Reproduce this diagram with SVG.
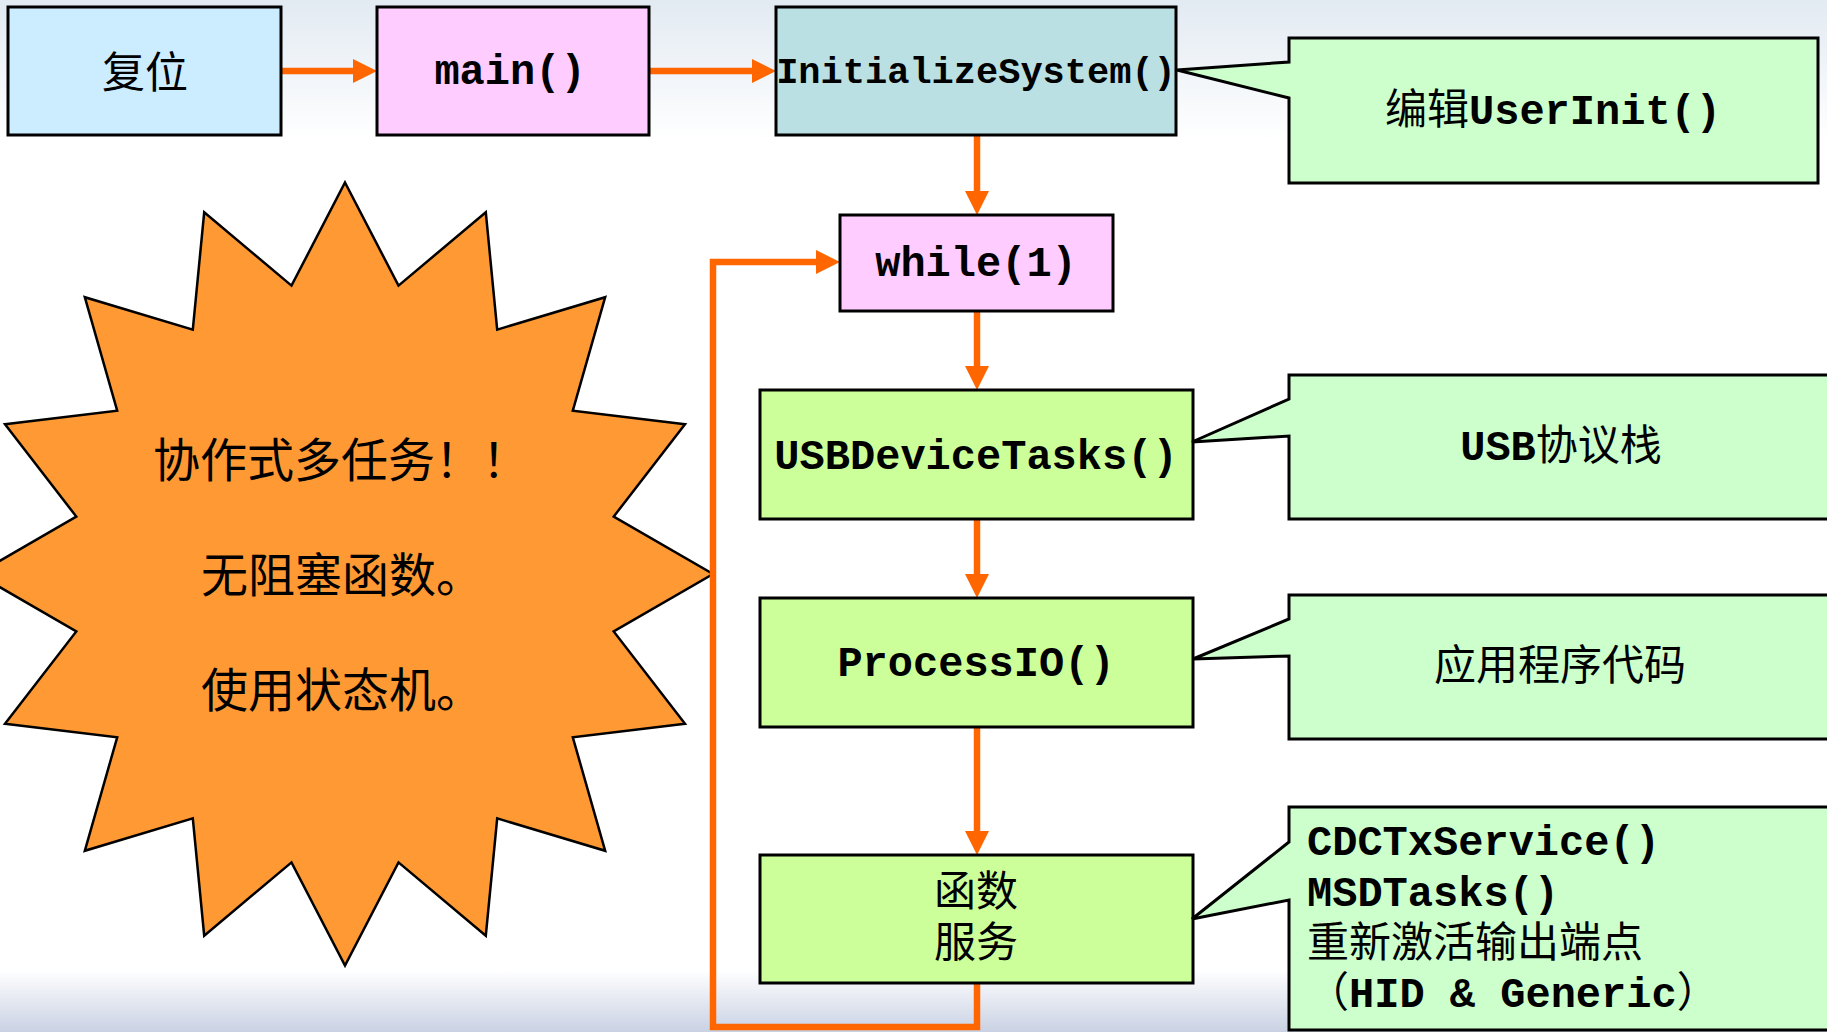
<svg xmlns="http://www.w3.org/2000/svg" width="1827" height="1032" viewBox="0 0 1827 1032">
  <defs>
    <linearGradient id="topHaze" x1="0" y1="0" x2="0" y2="1">
      <stop offset="0" stop-color="#E2EAF2"/>
      <stop offset="1" stop-color="#FFFFFF"/>
    </linearGradient>
    <linearGradient id="bottomBand" x1="0" y1="0" x2="0" y2="1">
      <stop offset="0" stop-color="#FFFFFF"/>
      <stop offset="1" stop-color="#C9D1E3"/>
    </linearGradient>
    <marker id="head" markerUnits="userSpaceOnUse" markerWidth="24" markerHeight="24" refX="0" refY="12" orient="auto">
      <path d="M0,0 L24,12 L0,24 Z" fill="#FF6600"/>
    </marker>
    <style>
      .box { stroke: #000; stroke-width: 3; }
      .callout { fill: #CCFFCC; stroke: #000; stroke-width: 3; stroke-linejoin: miter; }
      .task { fill: #CCFF99; }
      .pink { fill: #FFCCFF; }
      .flow { fill: none; stroke: #FF6600; stroke-width: 6.5; }
      .mono { font-family: "Liberation Mono", "Courier New", monospace; font-weight: bold; font-size: 42px; fill: #000; }
      .cjk { font-family: "Noto Sans CJK SC", "Liberation Sans", sans-serif; font-size: 42px; fill: #000; }
      .mid { text-anchor: middle; }
    </style>
  </defs>

  <!-- backdrop -->
  <rect x="0" y="0" width="1827" height="1032" fill="#FFFFFF"/>
  <rect x="0" y="0" width="1827" height="140" fill="url(#topHaze)"/>
  <rect x="0" y="970" width="1827" height="62" fill="url(#bottomBand)"/>

  <!-- starburst note -->
  <g id="star-note">
    <polygon fill="#FF9933" stroke="#000" stroke-width="2.5" stroke-linejoin="miter"
      points="345,182.5 398.5,285.6 485.8,212.3 497.2,329.6 605.2,297.2 572.8,410.7 685,424.2 613.7,516.6 713,574 613.7,631.4 685,723.8 572.8,737.3 605.2,850.8 497.2,818.4 485.8,935.7 398.5,862.4 345,965.5 291.5,862.4 204.2,935.7 192.8,818.4 84.8,850.8 117.2,737.3 5,723.8 76.3,631.4 -23,574 76.3,516.6 5,424.2 117.2,410.7 84.8,297.2 192.8,329.6 204.2,212.3 291.5,285.6"/>
    <text class="cjk" style="font-size:47px" x="153" y="477">协作式多任务！！</text>
    <text class="cjk" style="font-size:47px" x="201" y="592">无阻塞函数。</text>
    <text class="cjk" style="font-size:47px" x="201" y="707">使用状态机。</text>
  </g>

  <!-- connectors -->
  <g id="connectors">
    <line class="flow" x1="281" y1="71" x2="353" y2="71" marker-end="url(#head)"/>
    <line class="flow" x1="649" y1="71" x2="752" y2="71" marker-end="url(#head)"/>
    <line class="flow" x1="977" y1="135" x2="977" y2="191" marker-end="url(#head)"/>
    <line class="flow" x1="977" y1="311" x2="977" y2="366" marker-end="url(#head)"/>
    <line class="flow" x1="977" y1="519" x2="977" y2="574" marker-end="url(#head)"/>
    <line class="flow" x1="977" y1="727" x2="977" y2="831" marker-end="url(#head)"/>
    <polyline class="flow" points="977,983 977,1027 713,1027 713,262 816,262" marker-end="url(#head)"/>
  </g>

  <!-- flow nodes -->
  <g id="reset">
    <rect class="box" x="8" y="7" width="273" height="128" fill="#CCECFF"/>
    <text class="cjk mid" style="font-size:43px" x="145" y="88">复位</text>
  </g>
  <g id="main">
    <rect class="box pink" x="377" y="7" width="272" height="128"/>
    <text class="mono mid" x="510" y="84">main()</text>
  </g>
  <g id="initialize-system">
    <rect class="box" x="776" y="7" width="400" height="128" fill="#BBE0E3"/>
    <text class="mono mid" style="font-size:37px" x="976" y="83">InitializeSystem()</text>
  </g>
  <g id="while-loop">
    <rect class="box pink" x="840" y="215" width="273" height="96"/>
    <text class="mono mid" x="976" y="276">while(1)</text>
  </g>
  <g id="usb-device-tasks">
    <rect class="box task" x="760" y="390" width="433" height="129"/>
    <text class="mono mid" x="976" y="469">USBDeviceTasks()</text>
  </g>
  <g id="process-io">
    <rect class="box task" x="760" y="598" width="433" height="129"/>
    <text class="mono mid" x="976" y="676">ProcessIO()</text>
  </g>
  <g id="service-functions">
    <rect class="box task" x="760" y="855" width="433" height="128"/>
    <text class="cjk mid"><tspan x="976" y="906">函数</tspan><tspan x="976" y="957">服务</tspan></text>
  </g>

  <!-- callouts -->
  <g id="note-userinit">
    <path class="callout" d="M1289,38 H1818 V183 H1289 V98 L1177,70 L1289,62 Z"/>
    <text class="cjk mid" x="1553" y="124">编辑<tspan class="mono">UserInit()</tspan></text>
  </g>
  <g id="note-usb-stack">
    <path class="callout" d="M1289,375 H1850 V519 H1289 V436 L1192,442 L1289,399 Z"/>
    <text class="cjk mid" x="1561" y="460"><tspan class="mono">USB</tspan>协议栈</text>
  </g>
  <g id="note-app-code">
    <path class="callout" d="M1289,595 H1850 V739 H1289 V656 L1193,659 L1289,619 Z"/>
    <text class="cjk mid" x="1560" y="680">应用程序代码</text>
  </g>
  <g id="note-services">
    <path class="callout" d="M1289,807 H1850 V1030 H1289 V900 L1192,919 L1289,842 Z"/>
    <text class="cjk"><tspan class="mono" x="1307" y="855">CDCTxService()</tspan><tspan class="mono" x="1307" y="906">MSDTasks()</tspan><tspan x="1307" y="957">重新激活输出端点</tspan><tspan x="1307" y="1007">（<tspan class="mono">HID &amp; Generic</tspan>）</tspan></text>
  </g>
</svg>
